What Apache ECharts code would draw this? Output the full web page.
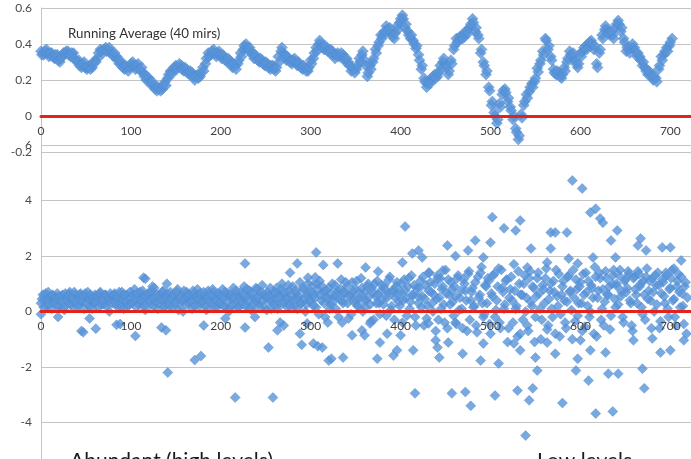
<!DOCTYPE html>
<html><head><meta charset="utf-8">
<script src="https://cdn.jsdelivr.net/npm/echarts@6/dist/echarts.min.js"></script>
<style>html,body{margin:0;padding:0;background:#fff}#c{width:691px;height:459px}</style>
</head><body><div id="c"></div>
<script>
// Running average (40 mirs), positions 0,3,6,...
const avgStep = 3;
const runningAvg = [
0.36,0.34,0.37,0.33,0.35,0.32,0.34,0.30,0.33,0.35,
0.36,0.33,0.35,0.31,0.31,0.27,0.30,0.26,0.28,0.27,
0.31,0.32,0.37,0.35,0.38,0.36,0.36,0.33,0.33,0.29,
0.29,0.26,0.27,0.27,0.30,0.26,0.29,0.25,0.24,0.20,
0.21,0.17,0.17,0.14,0.155,0.15,0.19,0.21,0.25,0.25,
0.28,0.27,0.28,0.25,0.26,0.23,0.24,0.20,0.23,0.22,
0.27,0.29,0.35,0.34,0.37,0.33,0.36,0.32,0.33,0.30,
0.31,0.27,0.28,0.29,0.35,0.37,0.40,0.36,0.36,0.32,
0.33,0.30,0.31,0.28,0.29,0.26,0.28,0.25,0.33,0.36,
0.35,0.31,0.32,0.29,0.32,0.28,0.29,0.26,0.27,0.25,
0.31,0.32,0.38,0.40,0.40,0.37,0.38,0.35,0.36,0.32,
0.35,0.33,0.34,0.30,0.30,0.25,0.255,0.26,0.32,0.34,
0.31,0.22,0.28,0.30,0.37,0.39,0.45,0.45,0.50,0.47,
0.46,0.43,0.50,0.52,0.56,0.49,0.47,0.43,0.42,0.375,
0.34,0.26,0.21,0.16,0.20,0.20,0.23,0.22,0.28,0.30,
0.29,0.23,0.31,0.37,0.43,0.42,0.45,0.44,0.48,0.49,
0.54,0.47,0.45,0.35,0.30,0.23,0.16,0.06,0.02,-0.04,
0.07,0.12,0.15,0.08,0.05,-0.02,-0.07,-0.13,0.01,0.06,
0.12,0.135,0.18,0.19,0.265,0.29,0.36,0.43,0.37,0.33,
0.26,0.23,0.24,0.21,0.27,0.30,0.36,0.33,0.31,0.27,
0.35,0.36,0.39,0.39,0.42,0.37,0.29,0.35,0.45,0.48,
0.48,0.45,0.45,0.49,0.53,0.47,0.43,0.36,0.37,0.38,
0.38,0.33,0.33,0.28,0.27,0.23,0.24,0.20,0.21,0.26,
0.33,0.34,0.38,0.39,0.43
];
// Running average, positions 1,4,7,...
const runningAvgB = [
0.34,0.36,0.35,0.35,0.33,0.34,0.31,0.32,0.35,0.36,
0.34,0.35,0.32,0.30,0.28,0.29,0.27,0.27,0.26,0.29,
0.30,0.35,0.36,0.37,0.36,0.38,0.34,0.35,0.31,0.31,
0.27,0.28,0.25,0.29,0.28,0.28,0.26,0.27,0.22,0.22,
0.19,0.19,0.15,0.16,0.14,0.17,0.17,0.23,0.23,0.27,
0.26,0.29,0.26,0.27,0.24,0.25,0.22,0.22,0.21,0.24,
0.25,0.32,0.33,0.36,0.35,0.35,0.34,0.34,0.31,0.32,
0.29,0.29,0.26,0.31,0.33,0.39,0.38,0.38,0.34,0.34,
0.31,0.32,0.29,0.30,0.27,0.28,0.26,0.27,0.30,0.38,
0.33,0.33,0.30,0.31,0.30,0.30,0.27,0.28,0.25,0.27,
0.29,0.35,0.36,0.42,0.38,0.39,0.36,0.37,0.34,0.34,
0.33,0.35,0.32,0.32,0.28,0.27,0.24,0.28,0.30,0.36,
0.28,0.24,0.26,0.32,0.35,0.41,0.43,0.47,0.48,0.49,
0.44,0.46,0.48,0.54,0.54,0.51,0.45,0.45,0.40,0.39,
0.31,0.28,0.19,0.18,0.18,0.22,0.21,0.24,0.26,0.32,
0.27,0.25,0.29,0.39,0.41,0.44,0.43,0.46,0.46,0.51,
0.52,0.49,0.43,0.37,0.28,0.25,0.14,0.08,0.00,-0.02,
0.05,0.14,0.13,0.10,0.03,0.00,-0.09,-0.11,-0.01,0.08,
0.10,0.16,0.16,0.21,0.245,0.31,0.34,0.42,0.39,0.31,
0.24,0.25,0.22,0.23,0.25,0.32,0.34,0.35,0.29,0.29,
0.33,0.38,0.37,0.41,0.40,0.39,0.27,0.37,0.43,0.50,
0.46,0.47,0.43,0.51,0.51,0.49,0.41,0.38,0.35,0.40,
0.36,0.35,0.31,0.30,0.25,0.25,0.22,0.22,0.19,0.28,
0.31,0.36,0.36,0.41
];

// Individual values at even positions 0,2,4,...
const coreStep = 2;
const ratioEven = [
0.3,0.6,0.5,0.2,0.7,0.4,0.1,0.55,0.35,0.65,
0.2,0.45,0.6,0.05,0.5,0.3,0.7,0.4,0.15,0.6,
0.5,0.25,0.65,0.35,0.1,0.55,0.7,0.2,0.45,0.3,
0.6,0.4,0.15,0.7,0.5,0.25,0.6,0.35,0.0,0.55,
0.45,0.65,0.2,0.5,0.3,0.7,0.1,0.4,0.6,0.25,
0.55,0.35,0.8,0.15,0.5,0.7,0.3,0.6,0.05,0.45,
0.65,0.25,0.5,0.85,0.35,0.1,0.6,0.4,0.75,0.2,
0.5,0.3,0.7,0.15,0.55,0.4,0.8,0.25,0.6,0.0,
0.45,0.7,0.3,0.55,0.1,0.65,0.4,0.8,0.2,0.5,
0.35,0.6,0.05,0.75,0.45,0.25,0.7,0.5,0.15,0.6,
0.4,0.8,0.2,0.55,0.65,0.1,0.45,0.85,0.3,0.6,
0.15,0.7,0.45,0.9,0.25,0.55,0.75,0.05,0.5,0.35,
0.8,0.3,0.6,0.95,0.2,0.5,0.7,0.4,0.1,0.65,
0.45,0.85,0.25,0.6,1.0,0.35,0.55,0.15,0.75,0.4,
0.9,0.2,0.65,0.45,1.05,0.3,0.8,0.0,0.55,0.7,
0.35,0.95,0.6,0.15,0.8,1.1,0.4,0.7,-0.2,0.5,
0.85,0.25,1.0,0.55,0.1,0.75,0.45,1.15,0.3,0.65,
0.9,-0.25,0.6,1.05,0.35,0.8,0.2,0.5,1.2,0.0,
0.7,0.4,1.0,0.25,0.85,-0.3,0.55,1.1,0.3,0.75,
0.45,0.95,-0.15,0.65,1.25,0.2,0.8,0.5,1.05,0.35,
0.7,-0.4,1.15,0.5,0.9,0.1,1.3,0.6,-0.2,0.85,
0.3,1.1,0.55,-0.5,0.95,0.2,1.4,0.7,0.0,1.0,
0.45,-0.3,1.2,0.8,0.25,1.5,-0.6,0.6,1.05,0.35,
0.9,-0.45,1.3,0.5,0.1,1.15,0.75,-0.7,1.45,0.4,
0.85,0.2,-0.5,1.25,0.6,1.6,-0.2,0.95,0.3,1.1,
-0.8,0.55,1.35,0.05,0.9,-0.4,1.5,0.7,0.25,1.15,
-0.6,0.8,0.4,1.7,0.1,-0.9,1.0,0.6,-0.3,1.3,
0.5,-0.7,1.45,0.2,0.85,-0.2,1.2,0.65,-1.0,0.95,
0.3,1.55,-0.5,0.75,0.1,1.1,-0.8,0.55,1.35,-0.1,
0.9,0.4,-0.6,1.25,0.7,0.05,1.5,-0.35,0.8,0.3,
1.05,-0.7,0.6,1.4,0.2,-0.2,0.95,0.5,1.6,-0.9,
0.75,1.2,0.1,-0.5,1.45,0.6,0.9,-0.15,1.3,0.45,
1.0,0.25,1.5,0.7,-0.4,1.15,0.85,1.35,0.3,-0.7,
1.25,0.6,1.45,0.9,0.15,1.1,-0.3,1.55,0.75,0.4,
1.2,0.0,0.95,1.4,-0.6,0.65,1.05,0.3,1.3,-0.2,
0.85,1.5,0.45,-0.5,1.1,0.7,1.25,0.2,0.9,-0.8
];

// Individual values at odd positions 1,3,5,...
const ratioOdd = [
0.45,0.15,0.65,0.4,0.25,0.55,0.6,0.3,0.5,0.2,
0.55,0.35,0.15,0.65,0.4,0.6,0.25,0.5,0.7,0.35,
0.2,0.6,0.4,0.55,0.65,0.3,0.45,0.6,0.1,0.5,
0.35,0.55,0.65,0.25,0.4,0.6,0.2,0.5,0.65,0.3,
0.6,0.3,0.5,0.7,0.15,0.45,0.6,0.35,0.2,0.7,
0.3,0.6,0.45,0.65,0.25,0.4,0.75,0.2,0.55,0.65,
0.4,0.75,0.2,0.55,0.6,0.3,0.45,0.7,0.15,0.5,
0.65,0.2,0.45,0.6,0.3,0.7,0.05,0.5,0.4,0.75,
0.25,0.55,0.6,0.35,0.75,0.2,0.55,0.45,0.65,0.3,
0.7,0.2,0.5,0.35,0.6,0.8,0.15,0.4,0.65,0.3,
0.55,0.2,0.7,0.35,0.0,0.6,0.25,0.5,0.75,0.15,
0.45,0.35,0.6,0.2,0.8,0.4,0.1,0.65,0.3,0.85,
0.5,0.15,0.7,0.4,0.6,0.05,0.55,0.85,0.35,0.25,
0.65,0.1,0.5,0.8,0.3,0.7,0.45,0.95,0.2,0.6,
0.4,0.75,0.1,0.55,0.3,0.85,0.5,0.25,1.0,0.4,
0.7,0.2,0.5,1.0,-0.1,0.6,0.9,0.3,0.75,0.45,
0.1,0.65,0.35,0.95,0.6,-0.2,0.8,0.4,0.7,1.05,
0.3,0.55,-0.1,0.75,0.45,1.1,0.2,0.65,0.85,0.4,
0.15,0.9,0.55,-0.35,0.7,1.0,0.3,0.6,-0.1,0.95,
0.25,0.8,0.5,1.15,0.05,0.7,-0.3,0.9,0.6,0.2,
1.0,0.4,0.75,-0.15,1.2,0.35,0.6,0.95,-0.5,0.55,
0.85,0.15,1.25,0.45,-0.25,0.75,1.05,0.3,0.6,-0.7,
1.3,0.5,0.1,0.9,-0.4,0.65,1.15,0.25,0.8,-0.15,
0.55,1.2,0.05,0.75,-0.6,1.0,0.4,1.35,-0.3,0.7,
0.15,1.05,-0.75,0.5,1.4,0.3,-0.1,0.9,1.2,-0.45,
0.65,1.3,-0.2,0.4,1.55,-0.6,0.85,0.1,1.1,-1.1,
0.5,1.25,-0.4,0.75,0.2,1.45,-0.8,0.6,1.0,0.0,
-0.5,1.2,0.35,0.9,-1.1,0.55,1.4,0.1,-0.3,0.8,
1.2,-0.65,0.45,1.0,-0.2,0.7,1.5,0.2,-0.9,0.6,
1.1,-0.4,0.35,1.3,0.75,-1.0,0.5,1.15,-0.15,0.9,
0.3,1.35,-0.55,0.7,1.1,0.0,0.85,-0.8,1.25,0.5,
1.4,-0.3,0.8,0.35,1.2,0.6,-0.65,1.0,1.5,0.15,
0.9,1.3,0.55,-0.2,1.1,0.7,1.45,0.4,-0.5,1.2,
0.8,0.3,1.35,1.0,-0.1,0.6,1.25,0.45,1.1,-0.6,
0.7,1.3,0.25,0.95,-0.35,1.15,0.55,1.4,0.1,0.8,
1.2,0.4,-0.2,0.9,1.35,0.15,0.65,-0.45,1.05,0.5
];

// Scattered individual values [position, value]
const ratioOutliers = [
[0,-0.1],[19,-0.2],[45,-0.7],[47,-0.75],[54,-0.25],[61,-0.62],[84,-0.48],[88,-0.45],[105,-0.88],
[114,1.22],[116,1.18],[124,0.9],[134,-0.58],[139,-0.68],[140,1.0],[141,-2.2],[171,-1.75],[178,-1.6],
[181,-0.5],[205,-0.25],[216,-3.1],[227,1.73],[227,-0.58],[238,-0.2],[253,-1.3],[258,-3.1],[263,-0.68],
[266,-0.4],[270,-0.5],[277,1.4],[285,1.73],[288,-0.8],[290,-1.2],[296,-0.43],[297,1.22],[303,-1.15],
[305,1.23],[306,2.13],[308,-1.25],[313,-1.3],[314,1.68],[319,-0.4],[320,-1.77],[323,-1.7],[330,1.73],
[335,-0.4],[336,-1.66],[346,-0.86],[357,-0.68],[360,-0.86],[361,1.59],[366,-0.43],[374,-1.7],[375,1.44],
[377,-1.12],[385,-0.8],[392,-1.59],[396,-1.4],[400,-0.86],[402,1.77],[405,3.06],[413,2.09],[414,-1.4],
[416,-2.95],[420,2.2],[424,1.95],[431,1.4],[431,-0.43],[439,-1.04],[441,1.19],[441,-1.3],[443,-1.66],
[447,1.48],[452,2.38],[453,-1.12],[457,-2.95],[461,2.0],[461,-0.4],[469,-1.52],[472,-2.9],[475,2.2],
[478,-3.4],[483,2.56],[489,-1.77],[492,1.95],[492,-1.15],[500,2.49],[502,3.4],[505,-3.03],[509,-1.87],
[515,3.0],[526,-1.15],[528,2.92],[530,-2.85],[533,3.28],[533,-1.4],[539,-4.47],[541,1.59],[543,-3.2],
[545,2.27],[547,-2.77],[550,-1.66],[552,-2.13],[563,1.77],[563,-1.12],[567,2.85],[567,2.27],[572,2.85],
[572,-1.52],[580,-3.3],[585,2.85],[587,1.91],[591,4.72],[595,-2.13],[597,1.73],[597,-1.7],[600,-1.04],
[602,4.43],[609,-2.49],[611,3.57],[611,-1.4],[614,1.95],[617,3.7],[617,-3.68],[622,3.35],[625,3.2],
[628,-1.48],[631,-2.24],[634,2.56],[636,-3.6],[639,1.95],[641,2.92],[642,-2.24],[659,-1.04],[664,2.38],
[667,2.63],[669,-2.06],[671,-2.77],[673,2.2],[680,-0.97],[689,-1.48],[691,2.31],[700,2.31],[700,-1.4],
[704,1.55],[712,1.84],[715,-1.04]
];

const topTitle = 'Running Average (40 mirs)';
const leftCaption = 'Abundant (high levels)';
const rightCaption = 'Low levels';

const FONT = 'Lato, "Open Sans", sans-serif';
const markerColor = '#5794da';
const zeroColor = '#e3221c';

const topData = runningAvg.map((v, i) => [i * avgStep, v])
  .concat(runningAvgB.map((v, i) => [i * avgStep + 1, v]));
const bottomData = ratioEven.map((v, i) => [i * coreStep, v])
  .concat(ratioOdd.map((v, i) => [i * coreStep + 1, v]))
  .concat(ratioOutliers);

// grid geometry (pixels)
const G0 = { left: 41, top: 8, width: 650, height: 144 };
const G1 = { left: 41, top: 145, width: 650, height: 333 };

function xAx(gi, zeroOffset) {
  return {
    type: 'value', gridIndex: gi, min: 0, max: 723, interval: 100, z: 5,
    position: 'bottom', offset: zeroOffset,
    axisLine: { onZero: false, lineStyle: { color: zeroColor, width: 3 } },
    axisTick: { show: false },
    splitLine: { show: false },
    axisLabel: { color: '#404040', fontSize: 12, fontFamily: FONT, margin: 9,
      formatter: v => (v % 100 === 0 ? String(v) : '') }
  };
}
function yAx(gi, min, max, interval) {
  return {
    type: 'value', gridIndex: gi, min, max, interval,
    axisLine: { show: true, onZero: false, lineStyle: { color: '#c4c4c4', width: 1 } },
    axisTick: { show: false },
    splitLine: { show: true, lineStyle: { color: '#c4c4c4', width: 1 } },
    axisLabel: { color: '#4a4a4a', fontSize: 12, fontFamily: FONT, margin: 9 }
  };
}

const chart = echarts.init(document.getElementById('c'), null, { renderer: 'canvas' });
chart.setOption({
  backgroundColor: '#ffffff',
  animation: false,
  grid: [
    Object.assign({ outerBoundsMode: 'none', containLabel: false }, G0),
    Object.assign({ outerBoundsMode: 'none', containLabel: false }, G1)
  ],
  xAxis: [xAx(0, -36), xAx(1, -167)],
  yAxis: [yAx(0, -0.2, 0.6, 0.2), yAx(1, -6, 6, 2)],
  series: [
    { type: 'scatter', xAxisIndex: 0, yAxisIndex: 0, data: topData, symbol: 'diamond', symbolSize: 11,
      itemStyle: { color: markerColor, borderColor: '#4a85c8', borderWidth: 0.5 } },
    { type: 'scatter', xAxisIndex: 1, yAxisIndex: 1, data: bottomData, symbol: 'diamond', symbolSize: 10,
      itemStyle: { color: markerColor, borderColor: '#4a85c8', borderWidth: 0.5 } }
  ],
  graphic: [
    { type: 'text', left: 68, top: 27, style: { text: topTitle, fill: '#333', font: '13.3px ' + FONT } },
    { type: 'text', left: 70, top: 451, style: { text: leftCaption, fill: '#1a1a1a', font: '21px ' + FONT } },
    { type: 'text', left: 537, top: 451, style: { text: rightCaption, fill: '#1a1a1a', font: '21px ' + FONT } }
  ]
});
</script>
</body></html>
